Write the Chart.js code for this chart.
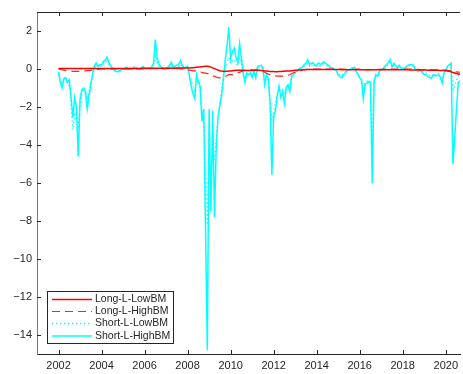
<!DOCTYPE html>
<html>
<head>
<meta charset="utf-8">
<script src="https://cdn.jsdelivr.net/npm/chart.js@4"></script>
<style>
  html, body { margin: 0; padding: 0; background: #fff; overflow: hidden; }
</style>
</head>
<body>
<canvas id="chart" width="463" height="374"></canvas>
<script>
// monthly series, first value is Jan 2002
const startYear = 2002;
const seriesNames = ['Long-L-LowBM', 'Long-L-HighBM', 'Short-L-LowBM', 'Short-L-HighBM'];
const xTicks = [2002, 2004, 2006, 2008, 2010, 2012, 2014, 2016, 2018, 2020];
const yTicks = [-14, -12, -10, -8, -6, -4, -2, 0, 2];

const longLow = [
    0.03, 0.03, 0.03, 0.03, 0.03, 0.03, 0.03, 0.03, 0.03, 0.03, 0.03, 0.03,
    0.03, 0.03, 0.03, 0.03, 0.03, 0.03, 0.03, 0.03, 0.03, 0.03, 0.03, 0.03,
    0.03, 0.03, 0.03, 0.03, 0.03, 0.03, 0.03, 0.03, 0.03, 0.03, 0.03, 0.03,
    0.03, 0.03, 0.03, 0.03, 0.03, 0.03, 0.03, 0.03, 0.03, 0.03, 0.04, 0.04,
    0.04, 0.04, 0.04, 0.04, 0.04, 0.04, 0.04, 0.04, 0.04, 0.04, 0.04, 0.04,
    0.04, 0.04, 0.04, 0.04, 0.04, 0.04, 0.05, 0.05, 0.05, 0.05, 0.05, 0.05,
    0.05, 0.05, 0.06, 0.07, 0.08, 0.09, 0.10, 0.11, 0.12, 0.13, 0.14, 0.14,
    0.13, 0.10, 0.06, 0.02, -0.02, -0.06, -0.09, -0.11, -0.12, -0.12, -0.12, -0.11,
    -0.10, -0.09, -0.08, -0.07, -0.06, -0.06, -0.06, -0.06, -0.07, -0.08, -0.08, -0.08,
    -0.08, -0.08, -0.07, -0.07, -0.07, -0.08, -0.09, -0.10, -0.11, -0.12, -0.13, -0.13,
    -0.13, -0.14, -0.14, -0.13, -0.13, -0.12, -0.12, -0.11, -0.10, -0.10, -0.09, -0.08,
    -0.07, -0.06, -0.05, -0.05, -0.04, -0.04, -0.03, -0.03, -0.03, -0.03, -0.03, -0.03,
    -0.03, -0.03, -0.03, -0.03, -0.03, -0.03, -0.03, -0.03, -0.03, -0.03, -0.03, -0.03,
    -0.03, -0.03, -0.04, -0.04, -0.04, -0.04, -0.04, -0.04, -0.04, -0.04, -0.04, -0.04,
    -0.04, -0.04, -0.04, -0.04, -0.04, -0.04, -0.04, -0.04, -0.04, -0.04, -0.04, -0.04,
    -0.04, -0.04, -0.04, -0.04, -0.04, -0.04, -0.04, -0.04, -0.04, -0.04, -0.04, -0.04,
    -0.04, -0.04, -0.04, -0.04, -0.05, -0.05, -0.05, -0.05, -0.05, -0.05, -0.05, -0.05,
    -0.05, -0.05, -0.06, -0.06, -0.06, -0.06, -0.07, -0.07, -0.07, -0.08, -0.08, -0.08,
    -0.09, -0.10, -0.12, -0.15, -0.18, -0.21, -0.24, -0.26, -0.28
];

const longHigh = [
    0.00, -0.02, -0.04, -0.06, -0.08, -0.10, -0.10, -0.11, -0.12, -0.12, -0.12, -0.12,
    -0.12, -0.11, -0.10, -0.10, -0.09, -0.08, -0.07, -0.05, -0.04, -0.03, -0.02, -0.01,
    0.00, 0.00, 0.01, 0.01, 0.01, 0.01, 0.01, 0.01, 0.01, 0.01, 0.01, 0.01,
    0.01, 0.01, 0.01, 0.01, 0.01, 0.01, 0.01, 0.01, 0.01, 0.01, 0.01, 0.01,
    0.01, 0.01, 0.01, 0.02, 0.02, 0.02, 0.02, 0.02, 0.02, 0.02, 0.02, 0.02,
    0.02, 0.02, 0.03, 0.03, 0.03, 0.03, 0.02, 0.02, 0.01, 0.00, -0.02, -0.04,
    -0.05, -0.06, -0.08, -0.10, -0.10, -0.10, -0.12, -0.15, -0.18, -0.20, -0.22, -0.24,
    -0.25, -0.30, -0.35, -0.39, -0.42, -0.45, -0.47, -0.47, -0.45, -0.40, -0.34, -0.30,
    -0.30, -0.30, -0.28, -0.25, -0.20, -0.17, -0.13, -0.10, -0.08, -0.06, -0.05, -0.05,
    -0.05, -0.05, -0.05, -0.06, -0.08, -0.10, -0.13, -0.17, -0.22, -0.27, -0.30, -0.33,
    -0.35, -0.36, -0.37, -0.38, -0.38, -0.38, -0.37, -0.36, -0.33, -0.30, -0.25, -0.20,
    -0.16, -0.12, -0.09, -0.07, -0.05, -0.04, -0.03, -0.02, -0.02, -0.01, -0.01, 0.00,
    0.00, 0.00, 0.00, 0.00, 0.00, 0.00, 0.00, 0.00, 0.00, 0.00, 0.00, 0.00,
    0.00, 0.00, -0.01, -0.01, -0.02, -0.02, -0.02, -0.02, -0.02, -0.02, -0.01, -0.01,
    -0.01, -0.02, -0.03, -0.03, -0.03, -0.03, -0.03, -0.03, -0.02, -0.02, -0.02, -0.02,
    -0.02, -0.01, -0.01, 0.00, 0.00, 0.00, 0.00, 0.00, 0.00, 0.00, 0.00, 0.00,
    0.00, 0.00, 0.00, 0.00, 0.00, -0.01, -0.01, -0.02, -0.02, -0.02, -0.03, -0.03,
    -0.03, -0.03, -0.04, -0.04, -0.04, -0.05, -0.05, -0.05, -0.05, -0.06, -0.06, -0.06,
    -0.06, -0.07, -0.08, -0.10, -0.12, -0.14, -0.15, -0.16, -0.17
];

const shortLow = [
    -0.3, -0.6, -0.8, -0.6, -0.5, -0.8, -0.9, -2.0, -3.2, -2.4, -2.6, -3.0,
    -2.0, -1.3, -1.0, -1.1, -1.6, -1.2, -0.7, -0.3, 0.05, 0.2, 0.1, 0.15,
    0.15, 0.25, 0.3, 0.4, 0.25, 0.15, 0.05, -0.05, -0.1, -0.1, -0.08, -0.03,
    0.0, 0.03, 0.06, 0.0, 0.03, -0.02, 0.05, 0.02, 0.03, 0.0, 0.02, 0.08,
    0.04, 0.0, 0.03, 0.01, 0.06, 0.15, 0.8, 0.35, 0.15, 0.08, 0.03, 0.0,
    0.03, 0.06, 0.1, 0.2, 0.03, 0.08, 0.1, 0.15, 0.25, 0.1, 0.0, 0.05,
    0.05, -0.3, -0.6, -0.9, -1.1, -0.4, -0.7, -1.0, -2.2, -2.5, -5.0, -8.2,
    -4.5, -5.6, -4.0, -4.8, -3.6, -2.6, -1.8, -1.1, -0.5, 0.1, 0.4, 0.6,
    0.3, 0.45, 0.5, 0.3, 0.2, 0.6, 0.3, -0.2, -0.5, -0.25, -0.3, -0.25,
    -0.35, -0.15, -0.35, 0.05, 0.08, 0.1, 0.0, -0.6, -0.4, -0.6, -1.5, -2.8,
    -2.2, -1.8, -1.3, -1.0, -1.2, -1.1, -1.3, -0.9, -0.8, -0.9, -0.4, -0.3,
    -0.2, -0.1, 0.0, 0.03, 0.06, 0.15, 0.2, 0.3, 0.15, 0.2, 0.2, 0.12,
    0.12, 0.2, 0.15, 0.2, 0.25, 0.2, 0.15, 0.1, 0.03, 0.03, -0.02, -0.06,
    -0.2, -0.3, -0.35, -0.25, -0.15, -0.08, -0.03, 0.0, 0.03, 0.05, -0.08, -0.25,
    -0.4, -0.5, -1.1, -0.7, -0.65, -0.6, -1.0, -4.5, -0.8, -0.3, -0.3, -0.08,
    -0.03, 0.0, 0.1, 0.15, 0.25, 0.35, 0.08, 0.2, 0.15, 0.03, 0.12, 0.03,
    0.03, 0.0, 0.1, 0.15, 0.15, 0.15, 0.12, -0.03, -0.07, -0.08, -0.04, -0.15,
    -0.2, -0.2, -0.3, -0.35, -0.4, -0.25, -0.3, -0.3, -0.25, -0.35, -0.55, -0.15,
    -0.03, 0.1, 0.15, 0.2, -1.2, -0.9, -0.6, -0.35, -0.3
];

const shortHigh = [
    -0.15, -0.7, -1.0, -0.5, -0.45, -0.7, -0.56, -1.5, -2.55, -1.5, -2.0, -4.6,
    -1.6, -1.1, -1.0, -1.2, -2.1, -1.44, -0.85, -0.25, 0.14, 0.32, 0.14, 0.23,
    0.2, 0.4, 0.45, 0.63, 0.35, 0.2, 0.05, -0.05, -0.12, -0.15, -0.1, -0.04,
    0.0, 0.05, 0.1, 0.0, 0.05, -0.02, 0.1, 0.03, 0.05, 0.0, 0.02, 0.14,
    0.05, 0.0, 0.05, 0.02, 0.1, 0.3, 1.55, 0.6, 0.25, 0.14, 0.05, 0.0,
    0.05, 0.1, 0.2, 0.35, 0.05, 0.15, 0.2, 0.25, 0.45, 0.2, 0.05, 0.1,
    0.14, -0.35, -0.9, -1.3, -1.55, -0.3, -0.65, -0.9, -2.76, -2.1, -8.4, -14.8,
    -2.1, -7.5, -2.2, -7.8, -4.0, -2.5, -1.9, -1.35, -0.47, 0.5, 1.2, 2.2,
    0.55, 0.9, 1.1, 0.6, 0.35, 1.35, 0.6, -0.2, -0.7, -0.2, -0.3, -0.2,
    -0.44, -0.12, -0.47, 0.14, 0.17, 0.19, 0.05, -0.83, -0.3, -0.5, -1.8, -5.56,
    -2.5, -2.2, -1.4, -0.9, -1.5, -1.2, -1.8, -1.0, -0.85, -1.18, -0.4, -0.3,
    -0.2, -0.1, 0.0, 0.05, 0.1, 0.23, 0.3, 0.49, 0.23, 0.3, 0.32, 0.2,
    0.2, 0.32, 0.25, 0.3, 0.38, 0.3, 0.23, 0.15, 0.05, 0.05, -0.04, -0.1,
    -0.3, -0.4, -0.47, -0.3, -0.2, -0.1, -0.05, 0.0, 0.05, 0.09, -0.1, -0.3,
    -0.47, -0.6, -1.55, -0.8, -0.75, -0.65, -0.7, -6.0, -0.65, -0.3, -0.39, -0.1,
    -0.05, 0.0, 0.14, 0.23, 0.35, 0.49, 0.1, 0.3, 0.2, 0.05, 0.2, 0.05,
    0.05, 0.0, 0.14, 0.2, 0.23, 0.23, 0.2, -0.05, -0.1, -0.12, -0.05, -0.2,
    -0.3, -0.3, -0.4, -0.45, -0.5, -0.3, -0.35, -0.35, -0.3, -0.45, -0.74, -0.2,
    -0.05, 0.15, 0.23, 0.3, -5.0, -3.6, -2.1, -0.7, -0.6
];

const textColor = '#262626';
const fontFamily = '"Liberation Sans", Arial, sans-serif';

function toPoints(values) {
    return values.map((v, i) => ({ x: startYear + i / 12, y: v }));
}

function minusLabel(v) {
    return v < 0 ? '\u2212' + Math.abs(v) : String(v);
}

// top border plus inward tick marks, like the original axes box
const frameLines = {
    id: 'frameLines',
    afterDraw(chart) {
        const ctx = chart.ctx;
        const area = chart.chartArea;
        const xs = chart.scales.x;
        const ys = chart.scales.y;
        ctx.save();
        ctx.strokeStyle = textColor;
        ctx.lineWidth = 1;
        ctx.beginPath();
        ctx.moveTo(area.left, area.top + 0.5);
        ctx.lineTo(area.right, area.top + 0.5);
        xTicks.forEach(t => {
            const px = Math.round(xs.getPixelForValue(t)) + 0.5;
            ctx.moveTo(px, area.top);
            ctx.lineTo(px, area.top + 4);
            ctx.moveTo(px, area.bottom);
            ctx.lineTo(px, area.bottom - 4);
        });
        yTicks.forEach(t => {
            const py = Math.round(ys.getPixelForValue(t)) + 0.5;
            ctx.moveTo(area.left, py);
            ctx.lineTo(area.left + 4, py);
        });
        ctx.stroke();
        ctx.restore();
    }
};

// legend box in the lower left corner
const boxLegend = {
    id: 'boxLegend',
    afterDraw(chart) {
        const ctx = chart.ctx;
        const left = 47.5, top = 291.5, w = 126, h = 52;
        ctx.save();
        ctx.fillStyle = '#ffffff';
        ctx.fillRect(left, top, w, h);
        ctx.strokeStyle = textColor;
        ctx.lineWidth = 1;
        ctx.strokeRect(left, top, w, h);
        const rows = [299.5, 311.5, 323.5, 336];
        chart.data.datasets.forEach((ds, i) => {
            const y = rows[i];
            ctx.beginPath();
            ctx.strokeStyle = ds.borderColor;
            ctx.lineWidth = ds.borderWidth;
            ctx.setLineDash(ds.borderDash || []);
            ctx.moveTo(52, y);
            ctx.lineTo(92, y);
            ctx.stroke();
            ctx.setLineDash([]);
            ctx.fillStyle = textColor;
            ctx.font = '10.5px ' + fontFamily;
            ctx.textBaseline = 'middle';
            ctx.fillText(ds.label, 95, y);
        });
        ctx.restore();
    }
};

new Chart(document.getElementById('chart'), {
    type: 'line',
    data: {
        datasets: [
            { label: seriesNames[0], data: toPoints(longLow), borderColor: '#ff0000', borderWidth: 1.5 },
            { label: seriesNames[1], data: toPoints(longHigh), borderColor: '#ff2020', borderWidth: 1.2, borderDash: [8, 5] },
            { label: seriesNames[2], data: toPoints(shortLow), borderColor: '#00ffff', borderWidth: 1.3, borderDash: [1.3, 2.7] },
            { label: seriesNames[3], data: toPoints(shortHigh), borderColor: '#00ffff', borderWidth: 1.5 }
        ]
    },
    options: {
        responsive: false,
        animation: false,
        events: [],
        layout: { padding: { top: 12, left: 0, right: 0, bottom: 0 } },
        elements: {
            point: { radius: 0 },
            line: { tension: 0, fill: false }
        },
        scales: {
            x: {
                type: 'linear',
                min: 2001,
                max: 2020.67,
                afterBuildTicks: s => { s.ticks = xTicks.map(v => ({ value: v })); },
                afterFit: s => { s.height = 20; },
                grid: { display: false, drawTicks: false },
                border: { display: true, color: textColor, width: 1 },
                ticks: {
                    color: textColor,
                    font: { family: fontFamily, size: 11 },
                    padding: 5,
                    maxRotation: 0,
                    callback: v => String(v)
                }
            },
            y: {
                min: -15,
                max: 3,
                afterBuildTicks: s => { s.ticks = yTicks.map(v => ({ value: v })); },
                afterFit: s => { s.width = 37; },
                grid: { display: false, drawTicks: false },
                border: { display: true, color: '#777777', width: 1 },
                ticks: {
                    color: textColor,
                    font: { family: fontFamily, size: 11 },
                    padding: 5,
                    callback: v => minusLabel(v)
                }
            }
        },
        plugins: {
            legend: { display: false },
            tooltip: { enabled: false }
        }
    },
    plugins: [frameLines, boxLegend]
});
</script>
</body>
</html>
